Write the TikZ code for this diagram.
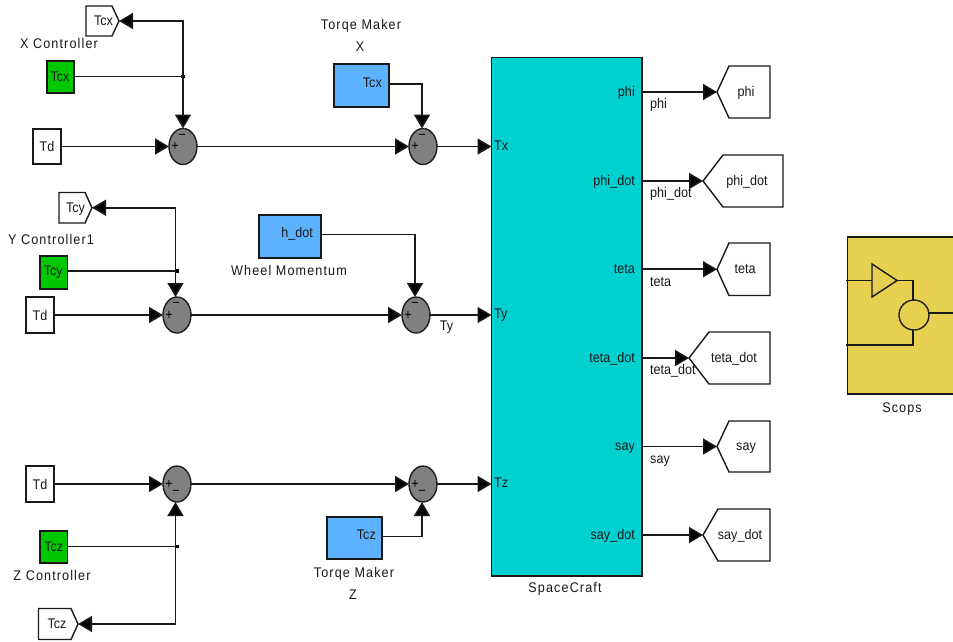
\documentclass[tikz,border=0pt]{standalone}
\usepackage{fontspec}
\setmainfont[FakeStretch=0.9]{Liberation Sans}
\newfontfamily\lblfont[FakeStretch=0.9,LetterSpace=8]{Liberation Sans}
\usetikzlibrary{arrows.meta,shapes.geometric,calc}
\definecolor{ctrlgreen}{RGB}{0,200,0}
\definecolor{makerblue}{RGB}{92,178,255}
\definecolor{craftcyan}{RGB}{0,208,208}
\definecolor{scopeyellow}{RGB}{230,208,80}
\definecolor{sumgray}{RGB}{128,128,128}
\definecolor{inkgray}{RGB}{25,25,25}
\tikzset{
  wire/.style={line width=1.6pt,draw=black!90},
  arr/.style={wire,-{Triangle[length=14pt,width=16pt,fill=black]}},
  outl/.style={draw=black!90,line width=1.4pt},
  blockb/.style={outl,rectangle,inner sep=0pt,outer sep=0pt,font=\fontsize{14}{16}\selectfont,text=inkgray},
  sumb/.style={outl,ellipse,fill=sumgray,minimum width=28pt,minimum height=36pt,inner sep=0pt,outer sep=0pt,dash pattern=on 3pt off 0.4pt},
  signb/.style={inner sep=0pt,font=\fontsize{14}{14}\selectfont},
  jct/.style={fill=black,rectangle,minimum size=3.5pt,inner sep=0pt,outer sep=0pt},
  port/.style={inner sep=0pt,text height=9.5pt,text depth=3pt,font=\fontsize{14}{16}\selectfont,text=inkgray},
  lbl/.style={inner sep=0pt,text height=9.5pt,text depth=3pt,font=\fontsize{14}{16}\lblfont,text=inkgray},
}
% name, flat x, shoulder x, tip x, top y, bottom y, text x, text
\newcommand{\gotoblk}[8]{%
  \draw[outl,fill=white] (#2,#5) -- (#3,#5) -- (#4,{(#5+#6)/2}) -- (#3,#6) -- (#2,#6) -- cycle;
  \node[port] (#1) at (#7,{(#5+#6)/2+1}) {#8};
  \coordinate (#1tip) at (#4,{(#5+#6)/2});
}
\begin{document}
\begin{tikzpicture}[x=1pt,y=-1pt]
\useasboundingbox (0,0) rectangle (953,641);
\clip (0,0) rectangle (953,641);
\fill[white] (0,0) rectangle (953,641);

% spacecraft
\node[blockb,fill=craftcyan,minimum width=150.5pt,minimum height=518.5pt] (craft) at (566.75,316.75) {};
\node[lbl] (craftlbl) at (565,589) {SpaceCraft};

% row 1
\gotoblk{gtcx}{86}{112}{119}{6}{36}{103.5}{Tcx}
\node[lbl] (xctl) at (59,45) {X Controller};
\node[blockb,fill=ctrlgreen,minimum width=27pt,minimum height=32pt] (tcx) at (60.5,77) {\hspace{-1pt}Tcx};
\node[jct] (j1) at (183,76.5) {};
\node[blockb,fill=white,minimum width=28pt,minimum height=35pt] (td1) at (47,146.5) {Td};
\node[sumb] (s1) at (183,146.5) {};
\node[signb] (s1p) at (175,146.5) {+};
\node[signb] (s1m) at (182,137) {−};
\node[lbl] (tmx) at (361,26) {Torqe Maker};
\node[lbl] (tmxb) at (360,48) {X};
\node[blockb,fill=makerblue,minimum width=55pt,minimum height=43pt] (mx) at (361.5,85.5) {};
\node[port,anchor=east] (mxp) at (382,84) {Tcx};
\node[sumb] (s2) at (423,146.5) {};
\node[signb] (s2p) at (415,146.5) {+};
\node[signb] (s2m) at (422,137) {−};
\coordinate (in1) at (craft.west |- s2);
\node[port,anchor=west] (tx) at (494,147) {Tx};

\draw[wire] (tcx.east |- j1) -- (j1);
\draw[arr] (j1.center) |- (gtcxtip);
\draw[arr] (j1.center) -- (j1.center |- s1.north);
\draw[arr] (td1) -- (s1);
\draw[arr] (s1) -- (s2);
\draw[arr] (s2) -- (in1);
\draw[arr] (mx.east |- mxp) -| ($(s2.north)+(-1,0)$);

% row 2
\gotoblk{gtcy}{59}{85}{92}{192.5}{223}{75.5}{Tcy}
\node[lbl] (yctl) at (51,241) {Y Controller1};
\node[blockb,fill=ctrlgreen,minimum width=27.5pt,minimum height=33pt] (tcy) at (53.75,272.5) {\hspace{-1pt}Tcy};
\node[jct] (j2) at (177,271) {};
\node[blockb,fill=white,minimum width=28pt,minimum height=36pt] (td2) at (40,315) {Td};
\node[sumb] (s3) at (177,315) {};
\node[signb] (s3p) at (169,315) {+};
\node[signb] (s3m) at (176,305) {−};
\node[blockb,fill=makerblue,minimum width=62pt,minimum height=43pt] (wh) at (290,236.5) {};
\node[port,anchor=east] (whp) at (313,234.5) {h\_dot};
\node[lbl] (whl) at (289,272) {Wheel Momentum};
\node[sumb] (s4) at (416,315) {};
\node[signb] (s4p) at (408,315) {+};
\node[signb] (s4m) at (415,305) {−};
\coordinate (in2) at (craft.west |- s4);
\node[port,anchor=west] (ty) at (494,315) {Ty};
\node[port] (tyl) at (446.5,327.5) {Ty};

\draw[wire] (tcy.east |- j2) -- (j2);
\draw[arr] (j2.center) ++(-1.5,0) |- (gtcytip);
\draw[arr] (j2.center) ++(-1.5,0) -- ($(s3.north)+(-1.5,0)$);
\draw[arr] (td2) -- (s3);
\draw[arr] (s3) -- (s4);
\draw[arr] (s4) -- (in2);
\draw[arr] (wh.east |- whp) -| ($(s4.north)+(-1,0)$);

% row 3
\node[blockb,fill=white,minimum width=28pt,minimum height=36pt] (td3) at (40,484) {Td};
\node[sumb] (s5) at (177,484) {};
\node[signb] (s5p) at (169,484) {+};
\node[signb] (s5m) at (176,493) {−};
\node[blockb,fill=ctrlgreen,minimum width=27.5pt,minimum height=32pt] (tcz) at (53.75,547) {Tcz};
\node[lbl] (zctl) at (52,577) {Z Controller};
\node[jct] (j3) at (177,546.5) {};
\gotoblk{gtcz}{38.5}{71}{78}{608.5}{639.5}{57}{Tcz}
\node[sumb] (s6) at (423,484) {};
\node[signb] (s6p) at (415,484) {+};
\node[signb] (s6m) at (422,493) {−};
\node[blockb,fill=makerblue,minimum width=55pt,minimum height=42pt] (mz) at (354.5,538) {};
\node[port,anchor=east] (mzp) at (376,536.5) {Tcz};
\node[lbl] (tmz) at (354,574) {Torqe Maker};
\node[lbl] (tmzb) at (353,596) {Z};
\coordinate (in3) at (craft.west |- s6);
\node[port,anchor=west] (tz) at (494,484) {Tz};

\draw[arr] (td3) -- (s5);
\draw[arr] (s5) -- (s6);
\draw[arr] (s6) -- (in3);
\draw[wire] (tcz.east |- j3) -- (j3);
\draw[arr] (j3.center) ++(-1.5,0) |- (gtcztip);
\draw[arr] (j3.center) ++(-1.5,0) -- ($(s5.south)+(-1.5,0)$);
\draw[arr] (mz.east |- mzp) -| ($(s6.south)+(-1,0)$);

% outputs
\gotoblk{gphi}{770}{729}{717}{66}{118}{746}{phi}
\gotoblk{gphid}{783}{723}{703}{155}{207}{747}{phi\_dot}
\gotoblk{gteta}{770}{729}{717}{243}{295.5}{745}{teta}
\gotoblk{gtetad}{770}{709}{689}{332}{384}{734}{teta\_dot}
\gotoblk{gsay}{770}{729}{717}{421}{472}{746}{say}
\gotoblk{gsayd}{770}{718}{703}{509}{561}{740}{say\_dot}

\node[port,anchor=east] (pphi) at (635,93) {phi};
\node[port,anchor=east] (pphid) at (635,182) {phi\_dot};
\node[port,anchor=east] (pteta) at (635,270.5) {teta};
\node[port,anchor=east] (ptetad) at (635,359) {teta\_dot};
\node[port,anchor=east] (psay) at (635,447.5) {say};
\node[port,anchor=east] (psayd) at (635,536) {say\_dot};

\node[port,anchor=west] (lphi) at (650,105.5) {phi};
\node[port,anchor=west] (lphid) at (650,194) {phi\_dot};
\node[port,anchor=west] (lteta) at (650,283) {teta};
\node[port,anchor=west] (ltetad) at (650,371.5) {teta\_dot};
\node[port,anchor=west] (lsay) at (650,460.5) {say};

\draw[arr] (craft.east |- gphitip) -- (gphitip);
\draw[arr] (craft.east |- gphidtip) -- (gphidtip);
\draw[arr] (craft.east |- gtetatip) -- (gtetatip);
\draw[arr] (craft.east |- gtetadtip) -- (gtetadtip);
\draw[arr] (craft.east |- gsaytip) -- (gsaytip);
\draw[arr] (craft.east |- gsaydtip) -- (gsaydtip);

% Scops
\node[blockb,fill=scopeyellow,minimum width=122pt,minimum height=157pt] (scope) at (908.5,315.5) {};
\node[lbl] (scopelbl) at (902,409) {Scops};
\coordinate (ampa) at (872,264);
\coordinate (ampb) at (872,297);
\coordinate (ampc) at (897,280.5);
\coordinate (ampin) at (872,280.5);
\draw[outl] (ampa) -- (ampc) -- (ampb) -- cycle;
\node[draw=black!90,line width=1.4pt,circle,minimum size=30pt,inner sep=0pt,outer sep=0pt,dash pattern=on 3pt off 0.4pt] (mix) at (914,315) {};
\coordinate (sin1) at (846,280.5);
\coordinate (sin2) at (846,345);
\coordinate (sout) at (953,313);
\draw[wire] (sin1) -- (ampin);
\draw[wire] (ampc) -| ($(mix.north)+(-1,0)$);
\draw[wire] (sin2) -| ($(mix.south)+(-1,0)$);
\draw[wire] (mix.east |- sout) -- (sout);
\end{tikzpicture}
\end{document}
